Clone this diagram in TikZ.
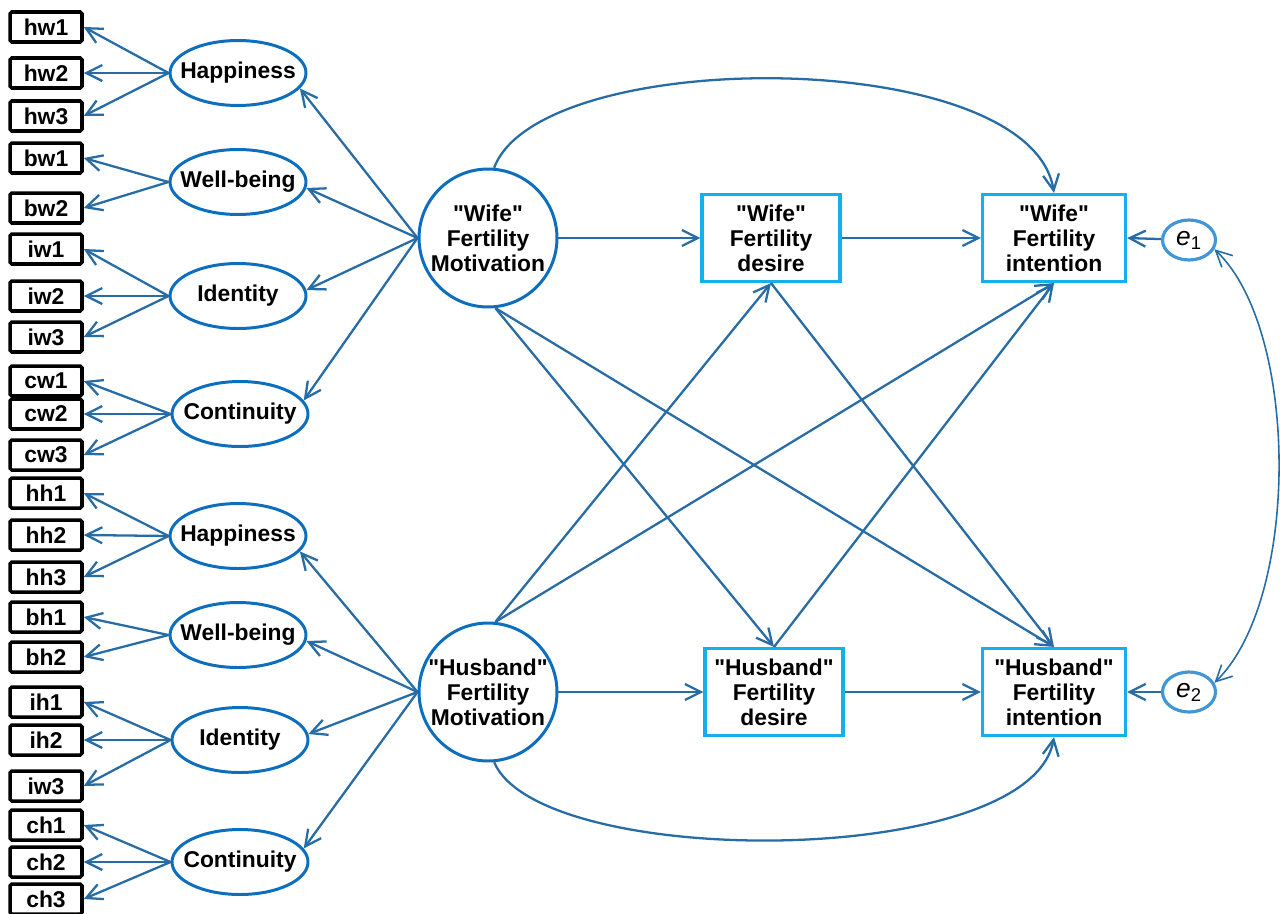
\documentclass[tikz,border=0pt]{standalone}
\usepackage{fontspec}
\setmainfont{Liberation Sans}
\newfontfamily\labelfont{Liberation Sans}
\usetikzlibrary{arrows.meta, shapes.geometric}
\definecolor{pathblue}{RGB}{40,108,165}
\definecolor{latblue}{RGB}{14,110,190}
\definecolor{obsblue}{RGB}{20,176,235}
\definecolor{errblue}{RGB}{64,150,215}
\tikzset{>={Straight Barb[length=3.2mm,width=3.2mm]}}
\tikzset{
  item/.style={draw=black, line width=2pt, rounded corners=1pt, minimum width=1.44cm, minimum height=0.6cm, inner sep=0pt, font=\labelfont\bfseries\fontsize{13}{14}\selectfont},
  factor/.style={ellipse, draw=latblue, line width=1.7pt, minimum width=2.72cm, minimum height=1.3cm, inner xsep=-8pt, inner ysep=0pt, font=\labelfont\bfseries\fontsize{13}{14}\selectfont},
  latent/.style={circle, draw=latblue, line width=1.7pt, minimum size=2.76cm, inner sep=0pt, align=center, font=\labelfont\bfseries\fontsize{13}{14.2}\selectfont},
  observed/.style={draw=obsblue, line width=1.8pt, minimum height=1.74cm, inner sep=0pt, align=center, font=\labelfont\bfseries\fontsize{13}{14.2}\selectfont},
  errterm/.style={ellipse, draw=errblue, line width=1.8pt, minimum width=1.06cm, minimum height=0.8cm, inner sep=0pt, font=\labelfont\fontsize{15}{16}\selectfont},
  path/.style={->, draw=pathblue, line width=1.3pt}
}

\begin{document}
\begin{tikzpicture}[x=0.02cm, y=-0.02cm]
\useasboundingbox (0,0) rectangle (1280,913);

% indicators
\foreach \n/\y in {hw1/27, hw2/73, hw3/116, bw1/158, bw2/208, iw1/249, iw2/296, iw3/337, cw1/381, cw2/414, cw3/455,
                   hh1/493, hh2/535, hh3/577, bh1/617, bh2/657, ih1/702, ih2/740, ch1/825, ch2/862, ch3/899}
  \node[item] (\n) at (46,\y) {\n};
\node[item] (ih3) at (46,786) {iw3};

% first order factors
\node[factor] (happyW) at (238,73) {Happiness};
\node[factor] (wellW) at (238,182) {Well-being};
\node[factor] (idW) at (238,296) {Identity};
\node[factor] (contW) at (240,414) {Continuity};
\node[factor] (happyH) at (238,536) {Happiness};
\node[factor] (wellH) at (238,635) {Well-being};
\node[factor] (idH) at (240,740) {Identity};
\node[factor] (contH) at (240,862) {Continuity};

% motivation, desire, intention
\node[latent] (motW) at (488,238) {"Wife"\\Fertility\\Motivation};
\node[latent] (motH) at (488,692) {"Husband"\\Fertility\\Motivation};
\node[observed, minimum width=2.76cm] (desW) at (771,238) {"Wife"\\Fertility\\desire};
\node[observed, minimum width=2.76cm] (desH) at (774,692) {"Husband"\\Fertility\\desire};
\node[observed, minimum width=2.86cm] (intW) at (1054,238) {"Wife"\\Fertility\\intention};
\node[observed, minimum width=2.86cm] (intH) at (1054,692) {"Husband"\\Fertility\\intention};
\node[errterm] (e1) at (1189,240) {\textit{e}\textsubscript{1}};
\node[errterm] (e2) at (1189,692) {\textit{e}\textsubscript{2}};

% loadings
\foreach \f/\list in {happyW/{hw1,hw2,hw3}, wellW/{bw1,bw2}, idW/{iw1,iw2,iw3}, contW/{cw1,cw2,cw3},
                      happyH/{hh1,hh2,hh3}, wellH/{bh1,bh2}, idH/{ih1,ih2,ih3}, contH/{ch1,ch2,ch3}}
  \foreach \i in \list
    \draw[path] (\f.west) -- (\i.east);
\foreach \f/\a in {happyW/-14, wellW/-5, idW/5, contW/12}
  \draw[path] (motW.west) -- (\f.\a);
\foreach \f/\a in {happyH/-14, wellH/-5, idH/5, contH/12}
  \draw[path] (motH.west) -- (\f.\a);

% structural paths
\draw[path] (motW.east) -- (desW.west);
\draw[path] (desW.east) -- (intW.west);
\draw[path] (motH.east) -- (desH.west);
\draw[path] (desH.east) -- (intH.west);
\draw[path] (motW.-84) -- (desH.north);
\draw[path] (motW.-84) -- (intH.north);
\draw[path] (motH.84) -- (desW.south);
\draw[path] (motH.84) -- (intW.south);
\draw[path] (desW.south) -- (intH.north);
\draw[path] (desH.north) -- (intW.south);
\draw[path] (motW.85) .. controls (540,45) and (1030,45) .. (intW.north);
\draw[path] (motH.-85) .. controls (540,870) and (1030,870) .. (intH.south);

% errors
\draw[path] (e1) -- (intW.east);
\draw[path] (e2) -- (intH.east);
\draw[<->, draw=pathblue, line width=0.9pt] (e1.-20) .. controls (1300,330) and (1300,600) .. (e2.20);
\end{tikzpicture}
\end{document}
